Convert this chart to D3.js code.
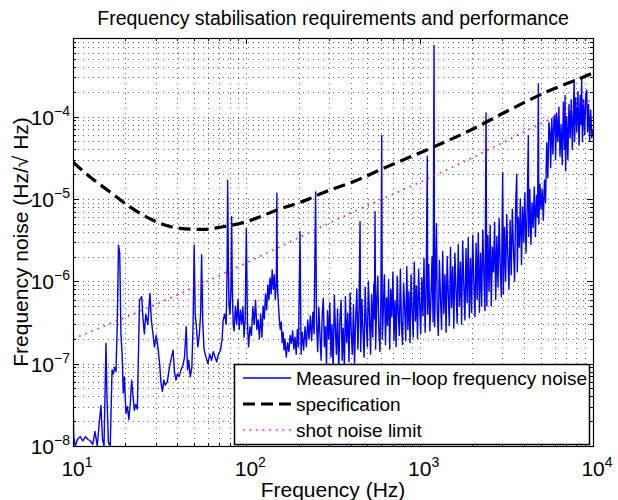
<!DOCTYPE html>
<html><head><meta charset="utf-8">
<script src="https://cdn.jsdelivr.net/npm/d3@7"></script>
<style>
html,body{margin:0;padding:0;background:#fff;}
text{font-family:"Liberation Sans",Arial,Helvetica,sans-serif;fill:#000;}
</style></head>
<body><svg id="chart" width="618" height="500"></svg>
<script>
// ---- data ----
const titleText = "Frequency stabilisation requirements and performance";
const xLabelText = "Frequency (Hz)";
const yLabelText = "Frequency noise (Hz/\u221A Hz)";
const legendLabels = ["Measured in\u2212loop frequency noise", "specification", "shot noise limit"];
const xTickValues = [10, 100, 1000, 10000];
const xTickExponents = ["1", "2", "3", "4"];
const yTickValues = [1e-8, 1e-7, 1e-6, 1e-5, 1e-4];
const yTickExponents = ["\u22128", "\u22127", "\u22126", "\u22125", "\u22124"];

const specFreq = [10, 12.5, 16.3, 21.3, 29, 41.4, 56.5, 73.6, 100, 149, 233, 266, 414, 646, 1148, 1954, 3184, 5413, 8810, 10000];
const specValue = [2.8e-5, 1.86e-5, 1.22e-5, 8.0e-6, 5.5e-6, 4.4e-6, 4.27e-6, 4.6e-6, 5.3e-6, 7.3e-6, 1.01e-5, 1.15e-5, 1.62e-5, 2.45e-5, 4.1e-5, 6.8e-5, 1.16e-4, 2.0e-4, 3.03e-4, 3.4e-4];

const shotFreq = [10, 36, 137, 266, 1560, 9200, 10000];
const shotValue = [2.0e-7, 6.2e-7, 2.3e-6, 4.5e-6, 2.45e-5, 1.5e-4, 1.62e-4];

const measured = [
[10,4.0e-8],[10.1,1.3e-8],[10.3,1.0e-8],[10.6,1.2e-8],[11,1.3e-8],[11.4,1.15e-8],[11.8,1.3e-8],[12.2,1.2e-8],[12.6,1.15e-8],[13,1.05e-8],
[13.4,1.5e-8],[13.8,1.0e-8],[14.2,2.0e-8],[14.5,3.1e-8],[14.8,1.2e-8],[15.1,1.0e-8],[15.5,1.76e-7],[15.7,4e-8],[16.0,1.1e-8],[16.4,1.0e-8],
[16.8,8.4e-8],[17.1,7.5e-8],[17.4,9e-8],[17.7,8e-8],[18.0,3e-7],[18.3,2.75e-6],[18.6,2.2e-6],[18.9,2.3e-7],[19.2,1.3e-7],[19.5,4.4e-8],
[19.8,6.9e-8],[20.2,2.5e-8],[20.6,3.0e-8],[21,2.1e-8],[21.4,3.3e-8],[21.8,6.3e-8],[22.2,4e-8],[22.6,2.7e-8],[23,3.2e-8],[23.5,2.8e-8],
[24.2,5.9e-7],[24.9,6.5e-7],[25.3,3.7e-7],[25.8,2.3e-7],[26.3,4e-7],[27,3e-7],[27.8,7.1e-7],[28.3,3.4e-7],[28.8,2.5e-7],[29.5,1.6e-7],
[30.2,2.2e-7],[31,1.5e-7],[31.6,1.0e-7],[32.2,5.8e-8],[32.8,4.6e-8],[33.4,6.3e-8],[34,5.5e-8],[35,6e-8],[36,9e-8],[37,1.2e-7],
[37.8,1.46e-7],[38.5,8e-8],[39.3,6.3e-8],[40,7.5e-8],[41,7e-8],[42,8.4e-8],[43,9.5e-8],[44,1.2e-7],[45,2.8e-7],[45.8,8.4e-8],
[46.5,1.1e-7],[47.5,6.9e-8],[48.5,9e-8],[49.3,3e-7],[50,2.75e-6],[50.7,4e-7],[51.5,2.8e-7],[52.5,1.6e-7],[53.5,2.2e-7],[54.5,4e-7],
[55.2,2.1e-6],[56,3.4e-7],[57,1.5e-7],[58.5,1.2e-7],[60,1.0e-7],[61.5,1.3e-7],[63,1.1e-7],[64.5,1.4e-7],[66,1.2e-7],[67.5,1.05e-7],
[69,1.3e-7],[71,1.46e-7],[72.5,2.0e-7],[73.5,3.4e-7],[75,4e-7],[76.5,3e-7],[77.5,1.5e-6],[78,1.69e-5],[78.8,1.5e-6],[79.5,5e-7],
[80.5,4e-7],[81.5,8e-7],[82.3,6.1e-6],[83,8e-7],[84,3e-7],
[85,2.5e-7],[86.5,5e-7],[88,3e-7],[89.5,6e-7],[91,2.6e-7],[92.5,4.5e-7],[94,3e-7],[95.5,4.9e-7],[97,2.1e-7],[98.5,3.5e-7],
[100,4.4e-6],[101.5,3e-7],[103,1.6e-7],[105,2.8e-7],[107,2.2e-7],[109,4.9e-7],[111,3e-7],[113,5.9e-7],[115,2.6e-7],[117,3.4e-7],
[119,2e-7],[121,4e-7],[123,2.1e-7],[125,5e-7],[127,3.5e-7],[129,7e-7],[131,4.5e-7],[133,9e-7],[135,6e-7],[137,1.1e-6],
[139,7e-7],[141,1.37e-6],[143,8e-7],[145,1.2e-6],[147,6e-7],[149,1.0e-6],[150,1.17e-5],[151,9e-7],[153,5.4e-7],[155,3.5e-7],
[157,2.6e-7],[159,3.2e-7],[161,1.8e-7],[163,2.4e-7],[165,1.46e-7],[167,2.0e-7],[170,1.2e-7],[173,1.8e-7],[176,1.4e-7],[179,2.2e-7],
[182,1.76e-7],[185,2.5e-7],[188,1.5e-7],[191,2.1e-7],[194,1.3e-7],[197,2.6e-7],[200,1.6e-7],[204,4e-6],[207,1.3e-7],[210,2.4e-7],
[214,1.46e-7],[218,2.8e-7],[222,1.6e-7],[226,3.4e-7],[230,2.0e-7],[234,3.8e-7],[238,1.9e-7],[242,4.2e-7],[246,2.3e-7],[251,1.22e-5],
[254,3.2e-7],[258,1.4e-7],[262,4.8e-7],[266,2.2e-7],[270,1.1e-7],[274,3.9e-7],[278,6.2e-7],[282,1.6e-7],[286,2.8e-7],[290,9.5e-8],
[294,4.4e-7],[299,2.0e-7],[303,5.5e-7],[308,1.2e-7],[312,3.0e-7],[317,8.5e-8],[322,6.8e-7],[327,2.4e-7],[331,1.3e-7],[336,4.6e-7],
[341,7.8e-8],[347,3.5e-7],[352,5.9e-7],[357,1.1e-7],[362,2.7e-7],[368,9e-8],[373,6.5e-7],[379,1.8e-7],[385,4.1e-7],[391,1.05e-7],
[397,7.2e-7],[403,2.3e-7],[409,1.3e-7],[415,5.2e-7],[421,9.8e-8],[427,3.3e-7],[434,8.1e-7],[440,1.5e-7],[447,4.7e-7],[453,5.3e-6],
[457,1.4e-7],[464,6.0e-7],[471,2.5e-7],[478,1.2e-7],[485,8.5e-7],[492,3.1e-7],[499,1.6e-7],[506,1.0e-6],[513,4.0e-7],[521,1.3e-7],
[528,6.9e-7],[536,2.1e-7],[544,9.3e-7],[548,3.5e-7],[553,7.0e-6],[557,1.5e-7],[565,5.5e-7],[573,1.15e-6],[581,2.6e-7],[590,1.4e-7],
[598,7.6e-7],[604,5.9e-5],[609,2.0e-7],[617,4.5e-7],[626,1.2e-6],[635,1.7e-7],[644,6.3e-7],[653,2.9e-7],[662,1.05e-6],[672,1.5e-7],
[681,8.0e-7],[691,3.7e-7],[701,1.3e-6],[711,1.9e-7],[721,5.8e-7],[731,1.6e-7],[742,1.15e-6],[752,4.2e-7],[763,2.2e-7],[774,1.4e-6],
[785,3.0e-7],[796,1.7e-7],[808,9.5e-7],[819,5.0e-7],[831,1.9e-7],[843,1.5e-6],[855,2.6e-7],[867,7.5e-7],[880,1.8e-7],[892,1.2e-6],
[905,4.4e-7],[918,2.1e-7],[931,1.7e-6],[945,3.3e-7],[958,8.8e-7],[972,2.0e-7],[986,1.4e-6],[1000,5.2e-7],
[1014,2.3e-7],[1029,1.1e-6],[1044,3.8e-7],[1059,1.9e-6],[1075,2.4e-7],[1090,8.5e-7],[1107,3.3e-5],[1112,4.0e-7],[1128,1.6e-6],[1145,2.5e-7],
[1162,6.5e-7],[1179,2.0e-6],[1195,3.2e-7],[1210,7.3e-4],[1220,2.8e-7],[1235,1.3e-6],[1250,5.0e-6],[1262,4.5e-7],[1281,2.2e-7],[1300,1.8e-6],
[1319,6.0e-7],[1338,2.6e-7],[1358,2.3e-6],[1378,4.1e-7],[1399,1.2e-6],[1420,2.4e-7],[1441,2.0e-6],[1462,7.0e-7],[1484,2.9e-7],[1506,2.6e-6],
[1528,4.8e-7],[1551,1.5e-6],[1574,2.7e-7],[1597,2.2e-6],[1621,8.0e-7],[1645,3.1e-7],[1670,2.8e-6],[1695,5.0e-7],[1720,1.7e-6],[1745,3.0e-7],
[1771,3.1e-6],[1798,9.0e-7],[1824,3.4e-7],[1852,2.5e-6],[1879,5.5e-7],[1907,3.4e-6],[1936,3.6e-7],[1965,1.9e-6],[1994,4.2e-7],[2024,3.6e-6],
[2054,1.0e-6],[2085,3.7e-7],[2116,2.9e-6],[2147,6.0e-7],[2179,3.9e-6],[2212,4.2e-7],[2245,2.2e-6],[2278,5.0e-7],[2312,4.2e-6],[2347,1.2e-6],
[2382,4.4e-7],[2415,1.11e-4],[2425,1.0e-5],[2440,5.0e-7],[2476,3.6e-6],[2513,7.5e-7],[2551,4.8e-6],[2589,5.0e-7],[2628,2.6e-6],[2667,1.3e-6],
[2707,5.2e-6],[2747,6.0e-7],[2789,3.5e-6],[2830,8.5e-7],[2873,5.8e-6],[2916,1.5e-6],[2960,6.5e-7],[3013,2.1e-5],[3040,7.0e-7],[3085,4.5e-6],
[3132,1.0e-6],[3179,6.5e-6],[3226,2.0e-6],[3274,8.0e-7],[3324,5.5e-6],[3374,1.2e-6],[3424,7.5e-6],[3476,2.5e-6],[3528,1.0e-6],[3580,8.8e-6],
[3630,2.0e-5],[3660,1.3e-6],[3700,6.0e-6],[3755,2.6e-6],[3811,1.0e-5],[3868,1.6e-6],[3926,8.0e-6],[3985,3.0e-6],[4045,1.2e-5],[4105,2.2e-6],
[4167,6.5e-6],[4236,5.9e-5],[4260,3.5e-6],[4320,1.3e-5],[4385,2.8e-6],[4450,9.0e-6],[4517,4.5e-6],[4585,1.4e-5],[4654,3.5e-6],[4724,1.1e-5],
[4790,6.0e-6],[4840,2.5e-4],[4870,5.0e-6],[4943,1.5e-5],[5017,7.5e-6],[5092,1.3e-5],[5169,5.5e-6],[5246,1.7e-5],[5325,9.0e-6],[5405,4.8e-5],
[5486,1.8e-5],[5568,8.5e-5],[5650,6.3e-5],[5700,2.4e-5],[5785,9.5e-5],[5872,3.5e-5],[5960,1.0e-4],[6030,1.04e-4],[6080,3.0e-5],[6170,1.1e-4],
[6263,5.0e-5],[6357,1.3e-4],[6452,3.3e-5],[6549,8.0e-5],[6647,2.6e-5],[6747,1.5e-4],[6848,4.0e-5],[6900,1.8e-4],[6950,2.2e-5],[7054,1.0e-4],
[7160,3.0e-5],[7268,1.4e-4],[7377,5.5e-5],[7487,1.6e-4],[7600,4.0e-5],[7714,1.3e-4],[7780,2.8e-4],[7830,5.0e-5],[7947,1.7e-4],[8066,6.5e-5],
[8187,2.0e-4],[8310,4.5e-5],[8435,1.8e-4],[8530,8.0e-5],[8600,2.9e-4],[8690,5.0e-5],[8820,1.6e-4],[8952,6.0e-5],[9087,1.9e-4],[9200,2.1e-4],
[9300,6.5e-5],[9430,1.4e-4],[9560,5.0e-5],[9700,1.2e-4],[9840,5.5e-5],[10000,6.8e-5]
];

// ---- layout ----
const plot = {left: 73, right: 593, top: 38, bottom: 446};
const svg = d3.select("#chart");

const x = d3.scaleLog().domain([10, 1e4]).range([plot.left, plot.right]);
const y = d3.scaleLog().domain([1e-8, 9e-4]).range([plot.bottom, plot.top]);

const xAll = [];
for (let e = 1; e <= 4; e++) for (let k = 1; k <= 9; k++) { const v = k * Math.pow(10, e); if (v >= 10 && v <= 1e4) xAll.push(v); }
const yAll = [];
for (let e = -8; e <= -4; e++) for (let k = 1; k <= 9; k++) { const v = k * Math.pow(10, e); if (v <= 9e-4) yAll.push(v); }
const isMajor = v => Math.abs(Math.log10(v) - Math.round(Math.log10(v))) < 1e-9;

// grid (dotted)
const grid = svg.append("g").attr("stroke", "#666").attr("stroke-width", 1).attr("stroke-dasharray", "1,4").attr("shape-rendering", "crispEdges");
grid.selectAll(".gx").data(xAll.filter(v => v > 10 && v < 1e4)).enter().append("line")
  .attr("x1", d => Math.round(x(d)) + 0.5).attr("x2", d => Math.round(x(d)) + 0.5)
  .attr("y1", plot.top).attr("y2", plot.bottom);
grid.selectAll(".gy").data(yAll.filter(v => v > 1e-8)).enter().append("line")
  .attr("y1", d => Math.round(y(d)) + 0.5).attr("y2", d => Math.round(y(d)) + 0.5)
  .attr("x1", plot.left).attr("x2", plot.right);

svg.append("defs").append("clipPath").attr("id", "clip").append("rect")
  .attr("x", plot.left).attr("y", plot.top).attr("width", plot.right - plot.left).attr("height", plot.bottom - plot.top);
const dataG = svg.append("g").attr("clip-path", "url(#clip)");

dataG.append("path").datum(measured)
  .attr("fill", "none").attr("stroke", "#0000ff").attr("stroke-width", 1.4).attr("stroke-linejoin", "round")
  .attr("d", d3.line().x(d => x(d[0])).y(d => y(d[1])));

dataG.append("path").datum(shotFreq.map((f, i) => [f, shotValue[i]]))
  .attr("fill", "none").attr("stroke", "#ff00ff").attr("stroke-width", 1.6).attr("stroke-dasharray", "1.6,5")
  .attr("d", d3.line().curve(d3.curveMonotoneX).x(d => x(d[0])).y(d => y(d[1])));

dataG.append("path").datum(specFreq.map((f, i) => [f, specValue[i]]))
  .attr("fill", "none").attr("stroke", "#000").attr("stroke-width", 3.2).attr("stroke-dasharray", "12,6")
  .attr("d", d3.line().curve(d3.curveMonotoneX).x(d => x(d[0])).y(d => y(d[1])));

// axes box & ticks
const axG = svg.append("g").attr("stroke", "#000").attr("shape-rendering", "crispEdges");
axG.selectAll(".tb").data(xAll).enter().append("line")
  .attr("x1", d => Math.round(x(d)) + 0.5).attr("x2", d => Math.round(x(d)) + 0.5)
  .attr("y1", plot.bottom).attr("y2", d => plot.bottom - (isMajor(d) ? 6 : 3));
axG.selectAll(".tt").data(xAll).enter().append("line")
  .attr("x1", d => Math.round(x(d)) + 0.5).attr("x2", d => Math.round(x(d)) + 0.5)
  .attr("y1", plot.top).attr("y2", d => plot.top + (isMajor(d) ? 6 : 3));
axG.selectAll(".tl").data(yAll).enter().append("line")
  .attr("y1", d => Math.round(y(d)) + 0.5).attr("y2", d => Math.round(y(d)) + 0.5)
  .attr("x1", plot.left).attr("x2", d => plot.left + (isMajor(d) ? 6 : 3));
axG.selectAll(".tr").data(yAll).enter().append("line")
  .attr("y1", d => Math.round(y(d)) + 0.5).attr("y2", d => Math.round(y(d)) + 0.5)
  .attr("x1", plot.right).attr("x2", d => plot.right - (isMajor(d) ? 6 : 3));
svg.append("rect").attr("x", plot.left + 0.5).attr("y", plot.top + 0.5)
  .attr("width", plot.right - plot.left).attr("height", plot.bottom - plot.top)
  .attr("fill", "none").attr("stroke", "#000").attr("stroke-width", 1.2);

// tick labels
const tickFont = 21, supFont = 14;
xTickValues.forEach((v, i) => {
  const t = svg.append("text").attr("x", x(v) + 4).attr("y", 476).attr("text-anchor", "middle").attr("font-size", tickFont);
  t.append("tspan").text("10");
  t.append("tspan").attr("font-size", supFont).attr("dy", -9).text(xTickExponents[i]);
});
yTickValues.forEach((v, i) => {
  const t = svg.append("text").attr("x", plot.left - 3).attr("y", y(v) + 8).attr("text-anchor", "end").attr("font-size", tickFont);
  t.append("tspan").text("10");
  t.append("tspan").attr("font-size", supFont).attr("dy", -9).text(yTickExponents[i]);
});

// title & axis labels
svg.append("text").attr("x", (plot.left + plot.right) / 2).attr("y", 25).attr("text-anchor", "middle")
  .attr("font-size", 19.5).text(titleText);
svg.append("text").attr("x", (plot.left + plot.right) / 2).attr("y", 497).attr("text-anchor", "middle")
  .attr("font-size", 21).text(xLabelText);
svg.append("text").attr("transform", `translate(28,${(plot.top + plot.bottom) / 2}) rotate(-90)`).attr("text-anchor", "middle")
  .attr("font-size", 21).text(yLabelText);

// legend
const lg = {x: 234, y: 364, w: 355, h: 80};
svg.append("rect").attr("x", lg.x + 0.5).attr("y", lg.y + 0.5).attr("width", lg.w).attr("height", lg.h)
  .attr("fill", "#fff").attr("stroke", "#000").attr("stroke-width", 1.5);
const rowsY = [378, 404, 430];
const legendStyles = [
  {stroke: "#0000ff", width: 1.4, dash: null},
  {stroke: "#000", width: 3.2, dash: "12,6"},
  {stroke: "#ff00ff", width: 1.6, dash: "1.6,5"}
];
legendLabels.forEach((lab, i) => {
  const s = legendStyles[i];
  const ln = svg.append("line").attr("x1", 243).attr("x2", 291).attr("y1", rowsY[i]).attr("y2", rowsY[i])
    .attr("stroke", s.stroke).attr("stroke-width", s.width);
  if (s.dash) ln.attr("stroke-dasharray", s.dash);
  svg.append("text").attr("x", 296).attr("y", rowsY[i] + 7).attr("font-size", 19).text(lab);
});
</script></body></html>
